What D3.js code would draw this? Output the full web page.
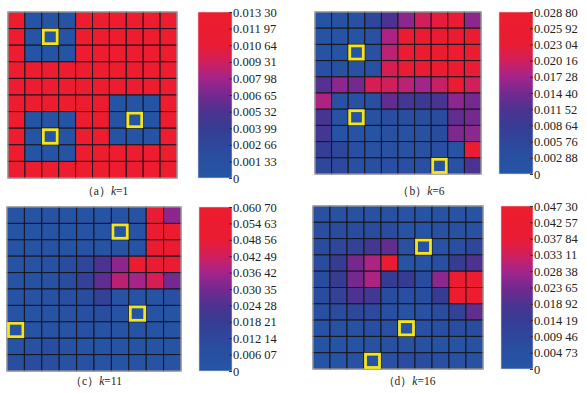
<!DOCTYPE html>
<html>
<head>
<meta charset="utf-8">
<script src="https://cdn.jsdelivr.net/npm/d3@7"></script>
<style>
  body { margin: 0; background: #fff; }
  text { font-family: "Liberation Serif", "Times New Roman", serif; fill: #222; }
</style>
</head>
<body>
<svg id="chart" width="587" height="393"></svg>
<script>
const R = 0.0130, B = 0.0003
const valuesA = [
  [R,B,B,B,R,R,R,R,R,R],
  [R,B,B,B,R,R,R,R,R,R],
  [R,B,B,B,R,R,R,R,R,R],
  [R,R,R,R,R,R,R,R,R,R],
  [R,R,R,R,R,R,R,R,R,R],
  [R,R,R,R,R,R,B,B,B,R],
  [R,B,B,B,R,R,B,B,B,R],
  [R,B,B,B,R,R,B,B,B,R],
  [R,B,B,B,R,R,R,R,R,R],
  [R,R,R,R,R,R,R,R,R,R]
]
const valuesB = [
  [.0014,.0023,.0023,.0058,.0115,.0158,.0202,.0225,.0245,.0158],
  [.0014,.0014,.0014,.0023,.0179,.0253,.0259,.0259,.0259,.0265],
  [.0014,.0014,.0014,.0023,.0187,.0253,.0265,.0265,.0274,.0265],
  [.0029,.0023,.0023,.0023,.0207,.0230,.0245,.0253,.0259,.0236],
  [.0121,.0158,.0144,.0207,.0202,.0187,.0173,.0196,.0236,.0202],
  [.0179,.0023,.0023,.0029,.0130,.0101,.0092,.0109,.0158,.0144],
  [.0109,.0014,.0014,.0023,.0035,.0035,.0035,.0043,.0130,.0144],
  [.0101,.0014,.0014,.0014,.0023,.0023,.0023,.0043,.0150,.0158],
  [.0081,.0058,.0029,.0023,.0023,.0023,.0023,.0029,.0014,.0236],
  [.0058,.0052,.0029,.0029,.0029,.0029,.0029,.0014,.0023,.0115]
]
const valuesC = [
  [.0030,.0030,.0030,.0030,.0030,.0030,.0030,.0030,.0516,.0334],
  [.0030,.0030,.0030,.0030,.0030,.0030,.0030,.0030,.0558,.0558],
  [.0030,.0030,.0030,.0030,.0030,.0030,.0030,.0030,.0558,.0546],
  [.0030,.0030,.0042,.0091,.0121,.0243,.0334,.0558,.0546,.0534],
  [.0030,.0042,.0049,.0091,.0152,.0273,.0395,.0364,.0437,.0304],
  [.0030,.0030,.0042,.0061,.0091,.0152,.0030,.0030,.0030,.0061],
  [.0030,.0030,.0030,.0049,.0061,.0073,.0030,.0030,.0030,.0030],
  [.0030,.0030,.0030,.0030,.0042,.0030,.0030,.0030,.0030,.0030],
  [.0030,.0049,.0073,.0049,.0030,.0030,.0030,.0030,.0030,.0030],
  [.0073,.0091,.0073,.0049,.0042,.0030,.0030,.0030,.0030,.0030]
]
const valuesD = [
  [.0038,.0038,.0038,.0038,.0038,.0024,.0024,.0024,.0024,.0024],
  [.0057,.0071,.0071,.0071,.0071,.0024,.0024,.0038,.0038,.0038],
  [.0071,.0095,.0118,.0166,.0213,.0038,.0024,.0024,.0047,.0095],
  [.0071,.0142,.0237,.0293,.0402,.0024,.0024,.0047,.0142,.0189],
  [.0071,.0142,.0237,.0293,.0142,.0142,.0071,.0260,.0449,.0449],
  [.0071,.0118,.0189,.0166,.0071,.0047,.0057,.0142,.0449,.0449],
  [.0047,.0071,.0095,.0085,.0047,.0024,.0038,.0071,.0118,.0213],
  [.0024,.0038,.0038,.0047,.0038,.0024,.0038,.0047,.0057,.0071],
  [.0024,.0024,.0024,.0038,.0038,.0038,.0038,.0024,.0024,.0038],
  [.0024,.0024,.0038,.0024,.0038,.0071,.0071,.0047,.0038,.0038]
]
// marked cells [row, col]
const marksA = [[1,2],[7,2],[6,7]]
const marksB = [[2,2],[6,2],[9,7]]
const marksC = [[1,6],[6,7],[7,0]]
const marksD = [[2,6],[7,5],[9,3]]

const ticksA = ["0","0.001 33","0.002 66","0.003 99","0.005 32","0.006 65","0.007 98","0.009 31","0.010 64","0.011 97","0.013 30"]
const ticksB = ["0","0.002 88","0.005 76","0.008 64","0.011 52","0.014 40","0.017 28","0.020 16","0.023 04","0.025 92","0.028 80"]
const ticksC = ["0","0.006 07","0.012 14","0.018 21","0.024 28","0.030 35","0.036 42","0.042 49","0.048 56","0.054 63","0.060 70"]
const ticksD = ["0","0.004 73","0.009 46","0.014 19","0.018 92","0.023 65","0.028 38","0.033 11","0.037 84","0.042 57","0.047 30"]

const captions = [["a","1"],["b","6"],["c","11"],["d","16"]]

const stops = [0, 0.15, 0.3, 0.4, 0.5, 0.6, 0.7, 0.8, 1]
const stopColors = ["#2556a6","#2a4c9f","#373c93","#4d3391","#74298f","#a4248b","#d11f5c","#e91c35","#ee1c2d"]
const cmap = d3.scaleLinear(stops, stopColors).clamp(true)

const panels = [
  {values: valuesA, marks: marksA, ticks: ticksA, cap: captions[0], gx: [8,177], gy: [12,178], cx: [198,232], capX: 105, capY: 192},
  {values: valuesB, marks: marksB, ticks: ticksB, cap: captions[1], gx: [315,481], gy: [12,174], cx: [499,533], capX: 421, capY: 192},
  {values: valuesC, marks: marksC, ticks: ticksC, cap: captions[2], gx: [7,181], gy: [207,371], cx: [199,232], capX: 96, capY: 382},
  {values: valuesD, marks: marksD, ticks: ticksD, cap: captions[3], gx: [313,483], gy: [206,369], cx: [501,533], capX: 409, capY: 382}
]

const svg = d3.select('#chart')
const defs = svg.append('defs')
const grad = defs.append('linearGradient')
  .attr('id', 'cbar')
  .attr('x1', 0).attr('y1', 1).attr('x2', 0).attr('y2', 0)
grad.selectAll('stop')
  .data(stops)
  .join('stop')
  .attr('offset', d => d)
  .attr('stop-color', (d, i) => stopColors[i])

panels.forEach(p => {
  const maxV = parseFloat(p.ticks[p.ticks.length - 1].replace(' ', ''))
  const xs = d3.scaleBand(d3.range(10), p.gx)
  const ys = d3.scaleBand(d3.range(10), p.gy)
  const color = v => cmap(v / maxV)
  const g = svg.append('g')

  const cells = p.values.flatMap((row, r) => row.map((v, c) => ({r, c, v})))
  g.selectAll('rect.cell')
    .data(cells)
    .join('rect')
    .attr('class', 'cell')
    .attr('x', d => xs(d.c))
    .attr('y', d => ys(d.r))
    .attr('width', xs.bandwidth())
    .attr('height', ys.bandwidth())
    .attr('fill', d => color(d.v))
    .attr('stroke', '#16161f')
    .attr('stroke-width', 1)

  g.append('rect')
    .attr('x', p.gx[0]).attr('y', p.gy[0])
    .attr('width', p.gx[1] - p.gx[0]).attr('height', p.gy[1] - p.gy[0])
    .attr('fill', 'none').attr('stroke', '#c8c8cc').attr('stroke-width', 1)

  g.selectAll('rect.mark')
    .data(p.marks)
    .join('rect')
    .attr('class', 'mark')
    .attr('x', d => xs(d[1]) + 1.5)
    .attr('y', d => ys(d[0]) + 1.5)
    .attr('width', xs.bandwidth() - 3)
    .attr('height', ys.bandwidth() - 3)
    .attr('fill', 'none')
    .attr('stroke', '#f6e619')
    .attr('stroke-width', 2.8)

  // colour bar
  const cs = d3.scaleLinear([0, maxV], [p.gy[1], p.gy[0]])
  g.append('rect')
    .attr('x', p.cx[0]).attr('y', p.gy[0])
    .attr('width', p.cx[1] - p.cx[0]).attr('height', p.gy[1] - p.gy[0])
    .attr('fill', 'url(#cbar)')
    .attr('stroke', '#d8d8e0').attr('stroke-width', 0.6)

  const tickVals = p.ticks.map((t, i) => maxV * i / (p.ticks.length - 1))
  const axis = d3.axisRight(cs)
    .tickValues(tickVals)
    .tickFormat((d, i) => p.ticks[i])
    .tickSize(3)
    .tickPadding(1)
  const ax = g.append('g')
    .attr('transform', `translate(${p.cx[1] - 3},0)`)
    .call(axis)
  ax.select('.domain').remove()
  ax.selectAll('line').attr('stroke', '#333')
  ax.selectAll('text')
    .attr('font-size', 12.5)
    .attr('font-family', '"Liberation Serif", serif')
    .attr('fill', '#222')

  const cap = g.append('text')
    .attr('x', p.capX).attr('y', p.capY)
    .attr('text-anchor', 'middle')
    .attr('font-size', 11.5)
    .attr('dominant-baseline', 'middle')
  cap.append('tspan').text('（' + p.cap[0] + '）')
  cap.append('tspan').attr('font-style', 'italic').text('k')
  cap.append('tspan').text('=' + p.cap[1])
})
</script>
</body>
</html>
